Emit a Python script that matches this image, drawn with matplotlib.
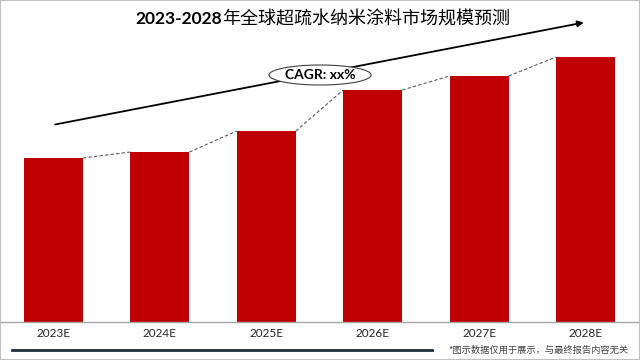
import matplotlib
matplotlib.use("Agg")
import matplotlib.pyplot as plt
from matplotlib.patches import Ellipse, Rectangle

# datos del grafico (valores estimados, sin unidad)
years = ["2023E", "2024E", "2025E", "2026E", "2027E", "2028E"]
values = [16.4, 17.0, 19.1, 23.2, 24.6, 26.5]
titulo_num = "2023-2028"
titulo_txt = "年全球超疏水纳米涂料市场规模预测"
nota = "*图示数据仅用于展示，与最终报告内容无关"
cagr = "CAGR: xx%"

ROJO = "#c00000"
CJK = ["Noto Sans CJK SC", "DejaVu Sans"]

fig = plt.figure(figsize=(6.4, 3.6), dpi=100)
ax = fig.add_axes([0, 38 / 360, 1, 322 / 360])

pos = list(range(len(years)))
ancho = 0.555
ax.bar(pos, values, width=ancho, color=ROJO, zorder=2)

# linea punteada entre los techos de las barras
for i in range(len(values) - 1):
    ax.plot([pos[i] + ancho / 2, pos[i + 1] - ancho / 2], [values[i], values[i + 1]],
            color="#595959", linestyle=(0, (3, 2)), lw=0.8, zorder=1)

ax.set_xlim(-0.503, 5.512)
ax.set_ylim(0, 32.2)
ax.set_yticks([])
ax.set_xticks(pos)
ax.set_xticklabels(years, fontsize=8.5, family=["Lato", "DejaVu Sans"], color="#262626")
ax.tick_params(axis="x", length=0, pad=4)
for lado in ["top", "left", "right"]:
    ax.spines[lado].set_visible(False)
ax.spines["bottom"].set_color("#a6a6a6")
ax.spines["bottom"].set_linewidth(1)

# flecha de tendencia + elipse CAGR
ax.annotate("", xy=(5.01, 30.0), xytext=(-0.01, 19.7),
            arrowprops=dict(arrowstyle="-|>", color="black", lw=1.3, mutation_scale=9),
            zorder=3)
ax.add_patch(Ellipse((2.505, 24.7), 0.96, 2.0, facecolor="white", edgecolor="#404040",
                     lw=0.8, zorder=4))
ax.text(2.505, 24.7, cagr, ha="center", va="center", fontsize=10, fontweight="bold",
        family=["Lato", "DejaVu Sans"], zorder=5)

# titulo en dos partes
fig.text(222 / 640, 1 - 19 / 360, titulo_num, ha="right", va="center", fontsize=12.5,
         fontweight="bold", family=["Lato", "DejaVu Sans"])
fig.text(222 / 640, 1 - 19 / 360, titulo_txt, ha="left", va="center", fontsize=13,
         family=CJK)

# linea inferior y nota
fig.add_artist(plt.Line2D([12 / 640, 432 / 640], [1 - 350 / 360] * 2, color="#1c2b3c", lw=2))
fig.text(629 / 640, 1 - 350 / 360, nota, ha="right", va="center", fontsize=6.7,
         family=CJK, color="#404040")

# borde gris del grafico
fig.patches.append(Rectangle((0, 0), 1, 1, transform=fig.transFigure, fill=False,
                             edgecolor="#c0c0c0", lw=1.5))

fig.savefig("out.png", dpi=100)
plt.close(fig)
